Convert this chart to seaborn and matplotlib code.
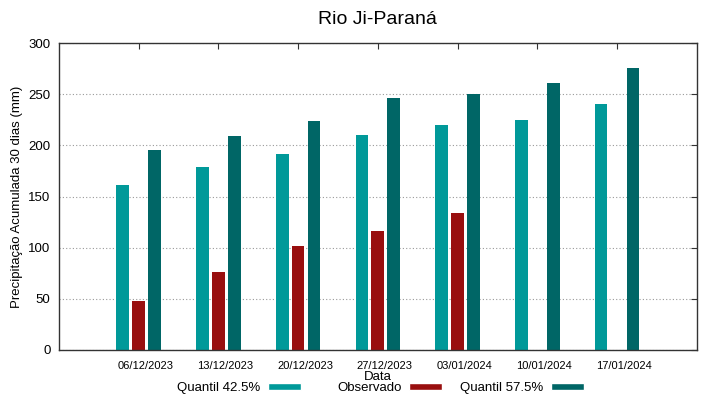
import pandas as pd
import numpy as np
import seaborn as sns
import matplotlib
matplotlib.use("Agg")
import matplotlib.pyplot as plt
import matplotlib.transforms as mtransforms
from matplotlib.patches import Patch

# valores
datas = ["06/12/2023", "13/12/2023", "20/12/2023", "27/12/2023",
         "03/01/2024", "10/01/2024", "17/01/2024"]
quantil_425 = [161, 179, 192, 210, 220, 225, 240]
observado = [48, 76, 102, 116, 134, np.nan, np.nan]
quantil_575 = [195, 209, 224, 246, 250, 261, 276]

series = ["Quantil 42.5%", "Observado", "Quantil 57.5%"]
cores = ["#009999", "#990f0f", "#006666"]

df = pd.DataFrame({
    "Data": datas * 3,
    "Serie": [s for s in series for _ in datas],
    "Valor": quantil_425 + observado + quantil_575,
})

sns.set_style("white")
plt.rcParams['font.family'] = ['Liberation Sans', 'DejaVu Sans']
plt.rcParams['text.color'] = 'black'
plt.rcParams['axes.labelcolor'] = 'black'
plt.rcParams['xtick.color'] = 'black'
plt.rcParams['ytick.color'] = 'black'

fig, ax = plt.subplots(figsize=(7.19, 3.99), dpi=100)
fig.subplots_adjust(left=0.082, right=0.969, top=0.892, bottom=0.123)

sns.barplot(data=df, x="Data", y="Valor", hue="Serie", hue_order=series,
            palette=cores, width=0.6, gap=0.2, saturation=1, ax=ax,
            legend=False, linewidth=0)

ax.set_xlim(-1, 7)
ax.set_ylim(0, 300)
ax.set_yticks(range(0, 301, 50))
ax.yaxis.grid(True, linestyle=(0, (1, 2)), color="#999999", linewidth=0.8)
ax.set_axisbelow(True)
for s in ax.spines.values():
    s.set_color("#333333")
    s.set_linewidth(1)

ax.tick_params(axis="both", direction="in", top=True, right=True, length=4,
               color="#333333")
ax.tick_params(axis="x", labelsize=8, pad=8)
ax.tick_params(axis="y", labelsize=9.5, pad=6)

# rotulos das datas um pouco deslocados para a direita (como no gnuplot)
desloc = mtransforms.ScaledTranslation(0.07, 0, fig.dpi_scale_trans)
for lbl in ax.get_xticklabels():
    lbl.set_transform(lbl.get_transform() + desloc)

ax.set_title("Rio Ji-Paraná", fontsize=14, pad=14)
ax.set_xlabel("Data", fontsize=9.5, labelpad=0)
ax.set_ylabel("Precipitação Acumulada 30 dias (mm)", fontsize=9.5, labelpad=4)

# legenda em colunas com texto alinhado a direita
fim_colunas = [0.419, 0.615, 0.812]
for s, c, xr in zip(series, cores, fim_colunas):
    fig.legend(handles=[Patch(facecolor=c, label=s)], loc="center right",
               bbox_to_anchor=(xr, 0.027), frameon=False, markerfirst=False,
               fontsize=9.5, handlelength=2.5, handleheight=0.45,
               handletextpad=0.6, borderaxespad=0, borderpad=0)

fig.savefig("out.png", dpi=100)
